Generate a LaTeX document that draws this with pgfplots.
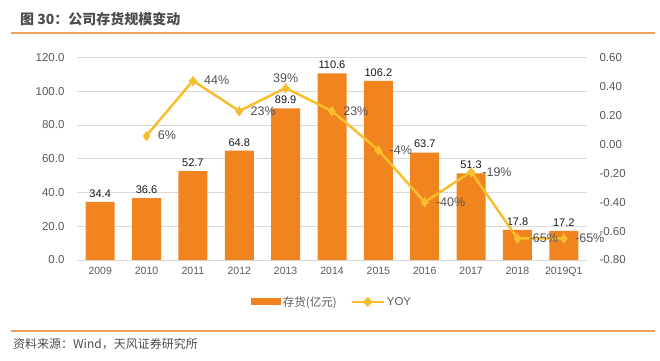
\documentclass[border=0pt]{standalone}
\usepackage{pgfplots}
\pgfplotsset{compat=1.18}
\usepackage{fontspec}
\setmainfont{Liberation Sans}
\newfontfamily\cjk{Noto Sans CJK SC}
\definecolor{barc}{HTML}{F0841F}
\definecolor{linec}{HTML}{F8BD2C}
\definecolor{gridc}{HTML}{D9D9D9}
\definecolor{tickc}{HTML}{595959}
\definecolor{rulec}{HTML}{E9A55E}
\begin{document}
\begin{tikzpicture}[x=1pt,y=1pt]
\path[use as bounding box] (0,0) rectangle (660,360);
\draw[rulec, line width=1.2pt] (11,327) -- (655,327);
\draw[rulec, line width=1.2pt] (11,29) -- (655,29);
\node[anchor=west, font=\cjk\bfseries\fontsize{14}{16}\selectfont, text=black!70, inner sep=0] at (20,341) {图 30：公司存货规模变动};
\node[anchor=west, font=\cjk\fontsize{12}{14}\selectfont, text=black!70, inner sep=0] at (13,16) {资料来源：Wind，天风证券研究所};
\begin{axis}[
  at={(77pt,100pt)}, anchor=south west, scale only axis,
  width=510pt, height=202.5pt,
  xmin=-0.5, xmax=10.5, ymin=0, ymax=120,
  axis y line*=left, axis x line*=bottom,
  axis line style={draw=none},
  major tick length=0pt,
  ytick={0,20,40,60,80,100,120},
  ymajorgrids, grid style={gridc, line width=0.9pt},
  xtick={0,1,2,3,4,5,6,7,8,9,10},
  xticklabels={2009,2010,2011,2012,2013,2014,2015,2016,2017,2018,2019Q1},
  /pgf/number format/assume math mode=true,
  yticklabel style={/pgf/number format/.cd, fixed, fixed zerofill, precision=1, /tikz/.cd, font=\fontsize{11.5}{12}\selectfont, text=tickc, xshift=-9pt},
  xticklabel style={font=\fontsize{10.5}{12}\selectfont, text=tickc, yshift=-4pt},
  legend style={at={(0.5,-0.207)}, anchor=center, draw=none, fill=none,
    legend columns=2, font=\fontsize{11.5}{13}\selectfont, text=tickc,
    /tikz/every even column/.append style={column sep=12pt}},
]
\addplot[fill=barc, draw=none, ybar, bar width=29pt,
  nodes near coords,
  nodes near coords style={/pgf/number format/.cd, fixed, fixed zerofill, precision=1, /tikz/.cd, font=\fontsize{11}{12}\selectfont, text=black!90, anchor=south, yshift=1pt},
  legend image code/.code={\fill[barc] (0pt,-3.5pt) rectangle (30pt,3.5pt);}]
  coordinates {(0,34.4) (1,36.6) (2,52.7) (3,64.8) (4,89.9) (5,110.6) (6,106.2) (7,63.7) (8,51.3) (9,17.8) (10,17.2)};
\addlegendentry{\cjk 存货(亿元)}
\addlegendimage{linec, line width=2.2pt, legend image code/.code={\draw[linec, line width=2.2pt] (0pt,0pt) -- (32pt,0pt); \fill[linec] (16pt,0pt) +(0,3.5pt) -- +(3.5pt,0) -- +(0,-3.5pt) -- +(-3.5pt,0) -- cycle;}}
\addlegendentry{YOY}
\end{axis}
\begin{axis}[
  at={(77pt,100pt)}, anchor=south west, scale only axis,
  width=510pt, height=202.5pt,
  xmin=-0.5, xmax=10.5, ymin=-0.8, ymax=0.6,
  axis y line*=right, axis x line=none,
  axis line style={draw=none},
  major tick length=0pt,
  ytick={-0.8,-0.6,-0.4,-0.2,0,0.2,0.4,0.6},
  /pgf/number format/assume math mode=true,
  yticklabel style={/pgf/number format/.cd, fixed, fixed zerofill, precision=2, /tikz/.cd, font=\fontsize{11.5}{12}\selectfont, text=tickc, xshift=9pt},
]
\addplot[linec, line width=2.5pt, mark=diamond*, mark size=4.5pt,
  mark options={fill=linec, draw=linec, line width=0pt},
  point meta=explicit symbolic, nodes near coords,
  nodes near coords style={anchor=west, xshift=8pt, font=\fontsize{12.5}{13}\selectfont, text=black!68}]
  coordinates {(1,0.06) [6\%] (2,0.44) [44\%] (3,0.23) [23\%] (4,0.39) [{}] (5,0.23) [23\%] (6,-0.04) [-4\%] (7,-0.40) [-40\%] (8,-0.19) [-19\%] (9,-0.65) [-65\%] (10,-0.65) [-65\%]};
\addplot[draw=none, point meta=explicit symbolic, nodes near coords,
  nodes near coords style={anchor=south, yshift=2pt, font=\fontsize{12.5}{13}\selectfont, text=black!68}]
  coordinates {(4,0.39) [39\%]};
\end{axis}
\end{tikzpicture}
\end{document}
